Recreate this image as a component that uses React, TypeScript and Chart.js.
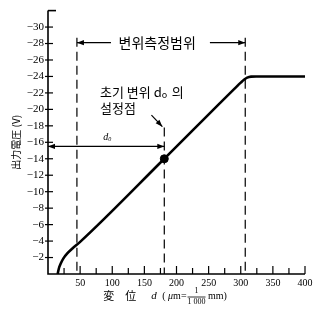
import React, { useEffect, useRef } from "react";
import { Chart, registerables } from "chart.js";
Chart.register(...registerables);

// ---- data ----
const curveX = [15, 17, 20, 24, 30, 38, 50, 181, 294, 300, 305, 310, 316, 324, 400];
const curveY = [0, 0.7, 1.3, 1.9, 2.5, 3.1, 3.9, 14.0, 22.8, 23.25, 23.6, 23.85, 23.98, 24, 24];
const setPointX = [181];
const setPointY = [14];
const xTickLabels = [50, 100, 150, 200, 250, 300, 350, 400];
const xMinorTicks = [25, 75, 125, 175, 225, 275, 325, 375];
const yTickLabels = [2, 4, 6, 8, 10, 12, 14, 16, 18, 20, 22, 24, 26, 28, 30];
const rangeStart = 45;
const rangeEnd = 307;
const rangeLevel = 28.1;
const d0Level = 15.5;
const yTitle = "出力電圧 (V)";
const rangeLabel = "변위측정범위";
const setLabel1 = "초기 변위 d";
const setLabel2 = "설정점";

const annot = {
  id: "annot",
  afterDatasetsDraw(chart: any) {
    const { ctx, scales } = chart;
    const x = scales.x, y = scales.y;
    const px = (v: number) => x.getPixelForValue(v);
    const py = (v: number) => y.getPixelForValue(v);
    ctx.save();
    ctx.strokeStyle = "#000";
    ctx.fillStyle = "#000";

    const arrow = (tx: number, ty: number, dx: number, dy: number) => {
      const len = Math.hypot(dx, dy);
      const ux = dx / len, uy = dy / len;
      const L = 7, W = 2.6;
      ctx.beginPath();
      ctx.moveTo(tx, ty);
      ctx.lineTo(tx - ux * L - uy * W, ty - uy * L + ux * W);
      ctx.lineTo(tx - ux * L + uy * W, ty - uy * L - ux * W);
      ctx.closePath();
      ctx.fill();
    };

    // axes
    ctx.lineWidth = 1.6;
    ctx.beginPath();
    ctx.moveTo(px(0), py(32));
    ctx.lineTo(px(0), py(0));
    ctx.lineTo(px(400), py(0));
    ctx.stroke();
    ctx.beginPath();
    ctx.moveTo(px(0), py(32));
    ctx.lineTo(px(0) + 8, py(32));
    ctx.stroke();
    // y ticks
    ctx.lineWidth = 1.2;
    yTickLabels.forEach((v) => {
      ctx.beginPath();
      ctx.moveTo(px(0) - 3, py(v));
      ctx.lineTo(px(0) + 5, py(v));
      ctx.stroke();
    });
    // x ticks
    xTickLabels.forEach((v) => {
      ctx.beginPath();
      ctx.moveTo(px(v), py(0));
      ctx.lineTo(px(v), py(0) - 8);
      ctx.stroke();
    });
    xMinorTicks.forEach((v) => {
      ctx.beginPath();
      ctx.moveTo(px(v), py(0));
      ctx.lineTo(px(v), py(0) - 6);
      ctx.stroke();
    });

    // dashed lines
    ctx.lineWidth = 1.2;
    ctx.setLineDash([9, 5]);
    [rangeStart, rangeEnd].forEach((v) => {
      ctx.beginPath();
      ctx.moveTo(px(v), py(rangeLevel + 0.6));
      ctx.lineTo(px(v), py(0));
      ctx.stroke();
    });
    ctx.beginPath();
    ctx.moveTo(px(setPointX[0]), py(17.8));
    ctx.lineTo(px(setPointX[0]), py(0));
    ctx.stroke();
    ctx.setLineDash([]);

    // range arrows
    ctx.lineWidth = 1.2;
    ctx.beginPath();
    ctx.moveTo(px(98), py(rangeLevel));
    ctx.lineTo(px(rangeStart), py(rangeLevel));
    ctx.stroke();
    arrow(px(rangeStart), py(rangeLevel), -1, 0);
    ctx.beginPath();
    ctx.moveTo(px(252), py(rangeLevel));
    ctx.lineTo(px(rangeEnd), py(rangeLevel));
    ctx.stroke();
    arrow(px(rangeEnd), py(rangeLevel), 1, 0);
    ctx.font = "14px 'Noto Sans CJK KR'";
    ctx.textAlign = "center";
    ctx.textBaseline = "middle";
    ctx.fillText(rangeLabel, px(170), py(rangeLevel));

    // d0 arrow
    ctx.beginPath();
    ctx.moveTo(px(0), py(d0Level));
    ctx.lineTo(px(setPointX[0]), py(d0Level));
    ctx.stroke();
    arrow(px(0), py(d0Level), -1, 0);
    arrow(px(setPointX[0]), py(d0Level), 1, 0);
    ctx.font = "italic 10px 'Liberation Serif'";
    ctx.textAlign = "left";
    ctx.fillText("d", px(86), py(16.6));
    ctx.font = "italic 6px 'Liberation Serif'";
    ctx.fillText("0", px(86) + 5, py(16.6) + 2);

    // leader arrow
    const lx0 = px(161), ly0 = py(19.3), lx1 = px(178), ly1 = py(17.9);
    ctx.beginPath();
    ctx.moveTo(lx0, ly0);
    ctx.lineTo(lx1, ly1);
    ctx.stroke();
    arrow(lx1, ly1, lx1 - lx0, ly1 - ly0);

    // set point label
    ctx.font = "13px 'Noto Sans CJK KR'";
    ctx.textAlign = "left";
    const tx = px(81);
    ctx.fillText(setLabel1, tx, py(22.1));
    const w1 = ctx.measureText(setLabel1).width;
    ctx.font = "9px 'Noto Sans CJK KR'";
    ctx.fillText("o", tx + w1, py(22.1) + 2);
    ctx.font = "13px 'Noto Sans CJK KR'";
    ctx.fillText("의", tx + w1 + 10, py(22.1));
    ctx.fillText(setLabel2, tx, py(20.2));

    // x title
    const ty = py(0) + 22;
    ctx.font = "11px 'Noto Sans CJK JP'";
    ctx.textBaseline = "middle";
    let cx = px(86);
    ctx.fillText("変", cx, ty);
    cx += 22;
    ctx.fillText("位", cx, ty);
    cx += 26;
    ctx.font = "italic 11px 'Liberation Serif'";
    ctx.fillText("d", cx, ty);
    cx += 11;
    ctx.font = "10px 'Liberation Serif'";
    ctx.fillText("(", cx, ty);
    cx += ctx.measureText("( ").width;
    ctx.font = "italic 10px 'Liberation Serif'";
    ctx.fillText("μ", cx, ty);
    cx += ctx.measureText("μ").width;
    ctx.font = "10px 'Liberation Serif'";
    ctx.fillText("m=", cx, ty);
    cx += ctx.measureText("m=").width + 1;
    ctx.font = "8px 'Liberation Serif'";
    const fw = ctx.measureText("1 000").width;
    ctx.textAlign = "center";
    ctx.fillText("1", cx + fw / 2, ty - 5);
    ctx.fillText("1 000", cx + fw / 2, ty + 6);
    ctx.lineWidth = 0.8;
    ctx.beginPath();
    ctx.moveTo(cx, ty + 1);
    ctx.lineTo(cx + fw, ty + 1);
    ctx.stroke();
    ctx.textAlign = "left";
    ctx.font = "10px 'Liberation Serif'";
    ctx.fillText(" mm)", cx + fw, ty);

    ctx.restore();
  },
};

export default function App() {
  const ref = useRef<HTMLCanvasElement>(null);
  useEffect(() => {
    const curve = curveX.map((v, i) => ({ x: v, y: curveY[i] }));
    const pts = setPointX.map((v, i) => ({ x: v, y: setPointY[i] }));
    const chart = new Chart(ref.current!, {
      type: "scatter",
      data: {
        datasets: [
          {
            data: curve,
            showLine: true,
            borderColor: "#000",
            borderWidth: 2.6,
            pointRadius: 0,
            cubicInterpolationMode: "monotone",
          } as any,
          {
            data: pts,
            pointRadius: 4,
            backgroundColor: "#000",
            borderColor: "#000",
          },
        ],
      },
      options: {
        animation: false,
        responsive: false,
        events: [],
        layout: { padding: { left: 0, right: 15, top: 10, bottom: 0 } },
        plugins: { legend: { display: false }, tooltip: { enabled: false } },
        scales: {
          x: {
            type: "linear",
            min: 0,
            max: 400,
            afterFit: (s: any) => {
              s.height = 38;
            },
            grid: { display: false, drawTicks: false },
            border: { display: false },
            ticks: {
              stepSize: 50,
              autoSkip: false,
              maxRotation: 0,
              padding: 3,
              color: "#000",
              font: { family: "'Liberation Serif'", size: 10 },
              callback: (v: any) => (xTickLabels.includes(Number(v)) ? String(v) : ""),
            },
          },
          y: {
            min: 0,
            max: 32,
            afterFit: (s: any) => {
              s.width = 48;
            },
            grid: { display: false, drawTicks: false },
            border: { display: false },
            ticks: {
              stepSize: 2,
              autoSkip: false,
              padding: 4,
              color: "#000",
              font: { family: "'Liberation Serif'", size: 11 },
              callback: (v: any) => (yTickLabels.includes(Number(v)) ? "\u2212" + v : ""),
            },
            title: {
              display: true,
              text: yTitle,
              color: "#000",
              font: { family: "'Noto Sans CJK JP'", size: 10 },
              padding: { top: 10, bottom: 0 },
            },
          },
        },
      },
      plugins: [annot],
    });
    return () => chart.destroy();
  }, []);
  return (
    <div style={{ position: "absolute", left: 0, top: 0, width: 320, height: 312, background: "#fff" }}>
      <canvas ref={ref} width={320} height={312} />
    </div>
  );
}
